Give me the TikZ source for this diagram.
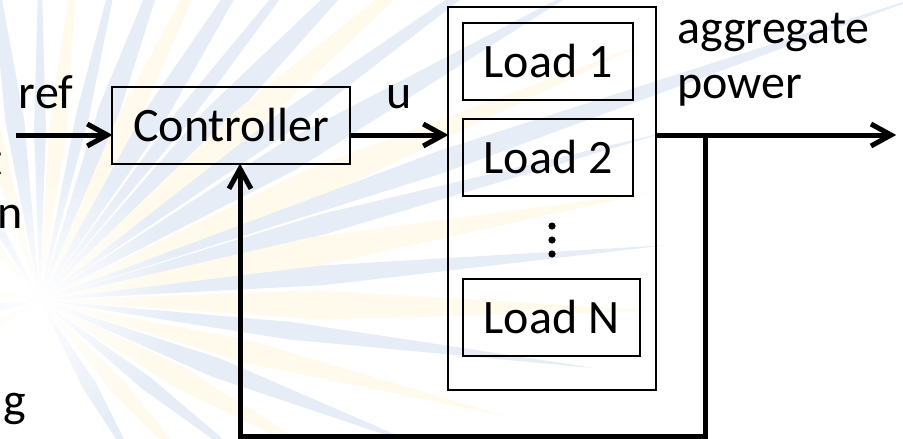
\documentclass[tikz,border=0pt]{standalone}
\usepackage{fontspec}
\setmainfont{Carlito}
\usetikzlibrary{fadings}

\definecolor{rayblue}{RGB}{230,237,247}
\definecolor{raycream}{RGB}{255,250,235}
\tikzfading[name=glowfade, inner color=transparent!0, outer color=transparent!100]

\tikzset{
  block/.style={draw, line width=1.5pt, rectangle, inner sep=0pt, align=center},
  lbl/.style={inner sep=0pt, font=\fontsize{48}{55}\selectfont},
  wire/.style={line width=5pt, line join=miter},
  sig/.style={wire, shorten >=6pt},
  pics/chevron/.style={code={\draw[wire] (-24,-11) -- (-4,0) -- (-24,11);}},
}

\begin{document}
\begin{tikzpicture}[x=1pt,y=-1pt]
\useasboundingbox (0,0) rectangle (903,439);
\begin{scope}
\clip (0,0) rectangle (903,439);
\fill[white] (0,0) rectangle (903,439);
% starburst backdrop
\begin{scope}[shift={(40,300)}]
  \foreach \a/\w/\L/\c in {
    -130/4/330/raycream, -120/3/350/rayblue, -106/3/380/raycream, -98/3/400/rayblue,
    -90/2/380/rayblue, -84/3/380/raycream, -77/2/420/rayblue, -70/3/450/rayblue,
    -64/3/450/raycream, -58/3/480/rayblue, -52/2/520/rayblue,
    -46/3/560/rayblue, -41/3/600/raycream, -36/2/660/rayblue, -30/3/640/rayblue,
    -23/3/660/raycream, -19/1.5/950/rayblue, -15/2/650/rayblue, -10/3/620/raycream,
    -5/2/630/rayblue, 1/3/620/raycream, 7/2/560/rayblue, 14/3/480/raycream,
    21/3/420/rayblue, 29/4/350/raycream, 38/3/300/rayblue, 48/4/260/raycream,
    60/4/220/rayblue, 150/5/200/raycream, 170/5/200/rayblue, 190/5/200/raycream}
  {
    \fill[\c] (0,0) -- (\a-\w:{0.45*\L}) -- (\a:\L) -- (\a+\w:{0.45*\L}) -- cycle;
  }
  \fill[white, path fading=glowfade] (0,0) circle (140);
\end{scope}

% clipped words of the neighbouring text column
\node[lbl, anchor=base east] (fragt) at (3,175) {t};
\node[lbl, anchor=base east] (fragn) at (23,228) {n};
\node[lbl, anchor=base east] (fragg) at (26,416) {g};
\end{scope}

% blocks
\node[block, minimum width=238pt, minimum height=77pt, lbl] (ctrl) at (231,125.5) {Controller};
\node[block, minimum width=208pt, minimum height=383pt] (plant) at (552,198.5) {};
\node[block, minimum width=170pt, minimum height=77pt, lbl] (load1) at (548,61.5) {Load 1};
\node[block, minimum width=170pt, minimum height=77pt, lbl] (load2) at (548,157.5) {Load 2};
\node[block, minimum width=177pt, minimum height=77pt, lbl] (loadn) at (551.5,317.5) {Load N};

% vertical ellipsis between the loads
\foreach \yy in {226,240,254} \fill (552,\yy) circle (3.6);

% signal labels
\node[lbl, anchor=base] (reflbl) at (46,108) {ref};
\node[lbl, anchor=base] (ulbl) at (399,108) {u};
\node[lbl, anchor=base west, align=left] (agglbl) at (677,98) {aggregate\\power};

% connectors
\coordinate (in) at (16,135);
\coordinate (out) at (895,135);
\coordinate (tap) at (705,135);
\coordinate (fbr) at (705,436);
\coordinate (fbl) at (240,436);
\coordinate (fbtip) at (fbl |- ctrl.south);

\draw[sig] (in) -- (in -| ctrl.west);
\pic at (in -| ctrl.west) {chevron};
\draw[sig] (in -| ctrl.east) -- (in -| plant.west);
\pic at (in -| plant.west) {chevron};
\draw[sig] (in -| plant.east) -- (out);
\pic at (out) {chevron};
\draw[sig] (tap) -- (fbr) -- (fbl) -- (fbtip);
\pic[rotate=90] at (fbtip) {chevron};
\end{tikzpicture}
\end{document}
